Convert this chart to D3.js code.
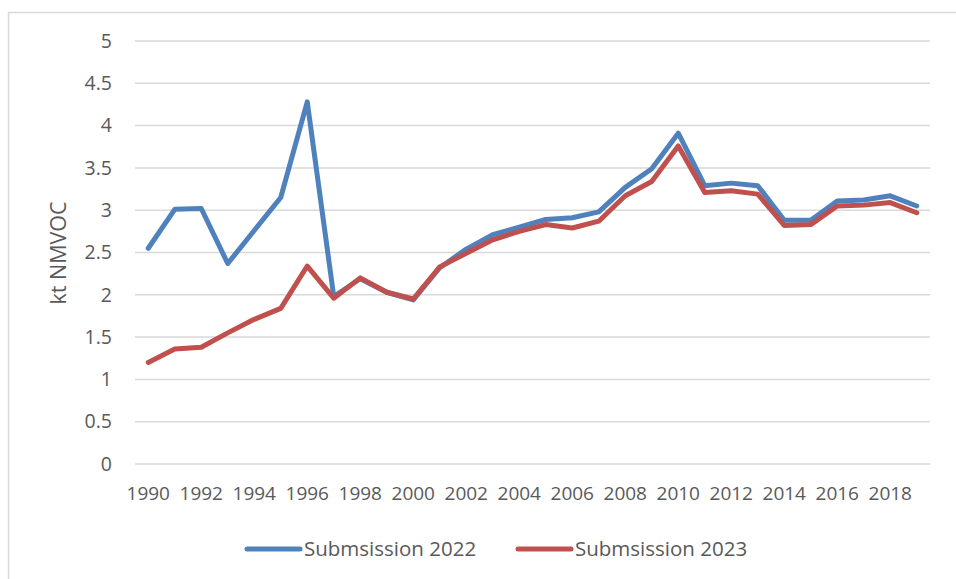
<!DOCTYPE html>
<html>
<head>
<meta charset="utf-8">
<script src="https://cdn.jsdelivr.net/npm/d3@7"></script>
<style>
  body { margin: 0; background: #fff; }
  svg text { font-family: "Open Sans", "Noto Sans", sans-serif; fill: #595959; }
</style>
</head>
<body>
<svg id="chart" width="956" height="579"></svg>
<script>
// categories
var years = [1990, 1991, 1992, 1993, 1994, 1995, 1996, 1997, 1998, 1999,
             2000, 2001, 2002, 2003, 2004, 2005, 2006, 2007, 2008, 2009,
             2010, 2011, 2012, 2013, 2014, 2015, 2016, 2017, 2018, 2019];

// series values (kt NMVOC)
var sub2022 = [2.55, 3.01, 3.02, 2.37, 2.76, 3.15, 4.28, 1.98, 2.19, 2.03,
               1.94, 2.32, 2.54, 2.71, 2.80, 2.89, 2.91, 2.98, 3.27, 3.49,
               3.91, 3.29, 3.32, 3.29, 2.88, 2.88, 3.11, 3.12, 3.17, 3.05];
var sub2023 = [1.20, 1.36, 1.38, 1.55, 1.71, 1.84, 2.34, 1.96, 2.20, 2.03,
               1.95, 2.33, 2.49, 2.65, 2.75, 2.83, 2.79, 2.87, 3.17, 3.34,
               3.76, 3.21, 3.23, 3.19, 2.82, 2.83, 3.05, 3.06, 3.09, 2.97];

var seriesNames = ["Submsission 2022", "Submsission 2023"];
var yTicks = [0, 0.5, 1, 1.5, 2, 2.5, 3, 3.5, 4, 4.5, 5];
var xTickYears = [1990, 1992, 1994, 1996, 1998, 2000, 2002, 2004, 2006, 2008,
                  2010, 2012, 2014, 2016, 2018];

var colors = ["#4f81bd", "#c0504d"];

var svg = d3.select("#chart");

// chart frame (only top and left edges are visible in the crop)
svg.append("rect")
    .attr("x", 8.5).attr("y", 12.5)
    .attr("width", 1000).attr("height", 1000)
    .attr("fill", "none")
    .attr("stroke", "#d9d9d9")
    .attr("stroke-width", 1.5);

var x = d3.scaleBand()
    .domain(years)
    .range([135, 930]);

var y = d3.scaleLinear()
    .domain([0, 5])
    .range([464, 41]);

function cx(yr) { return x(yr) + x.bandwidth() / 2; }

// gridlines
svg.append("g")
    .selectAll("line")
    .data(yTicks)
    .enter()
    .append("line")
    .attr("x1", 135).attr("x2", 930)
    .attr("y1", function(d) { return y(d); })
    .attr("y2", function(d) { return y(d); })
    .attr("stroke", "#d9d9d9")
    .attr("stroke-width", 1.5);

// y axis labels
var yAxis = d3.axisLeft(y)
    .tickValues(yTicks)
    .tickSize(0)
    .tickPadding(0)
    .tickFormat(function(d) { return d; });

svg.append("g")
    .attr("transform", "translate(112,0)")
    .call(yAxis)
    .call(function(g) { g.select(".domain").remove(); })
    .selectAll("text")
    .attr("font-size", 19.5)
    .style("font-family", "\"Open Sans\", sans-serif")
    .attr("fill", "#595959");

// x axis labels
var xAxis = d3.axisBottom(x)
    .tickValues(xTickYears)
    .tickSize(0)
    .tickPadding(0);

svg.append("g")
    .attr("transform", "translate(0,486)")
    .call(xAxis)
    .call(function(g) { g.select(".domain").remove(); })
    .selectAll("text")
    .attr("font-size", 19)
    .style("font-family", "\"Open Sans\", sans-serif")
    .attr("fill", "#595959");

// y axis title
svg.append("text")
    .attr("transform", "translate(66,253) rotate(-90)")
    .attr("text-anchor", "middle")
    .attr("font-size", 21.5)
    .text("kt NMVOC");

// lines
var line = d3.line()
    .x(function(d, i) { return cx(years[i]); })
    .y(function(d) { return y(d); });

[sub2022, sub2023].forEach(function(s, i) {
    svg.append("path")
        .datum(s)
        .attr("d", line)
        .attr("fill", "none")
        .attr("stroke", colors[i])
        .attr("stroke-width", 5)
        .attr("stroke-linejoin", "round")
        .attr("stroke-linecap", "round");
});

// legend
var legendX = [247, 518];
var legend = svg.append("g");
seriesNames.forEach(function(name, i) {
    legend.append("line")
        .attr("x1", legendX[i]).attr("x2", legendX[i] + 53)
        .attr("y1", 549).attr("y2", 549)
        .attr("stroke", colors[i])
        .attr("stroke-width", 5)
        .attr("stroke-linecap", "round");
    legend.append("text")
        .attr("x", legendX[i] + 57)
        .attr("y", 549)
        .attr("dy", "0.35em")
        .attr("font-size", 20.5)
        .text(name);
});
</script>
</body>
</html>
